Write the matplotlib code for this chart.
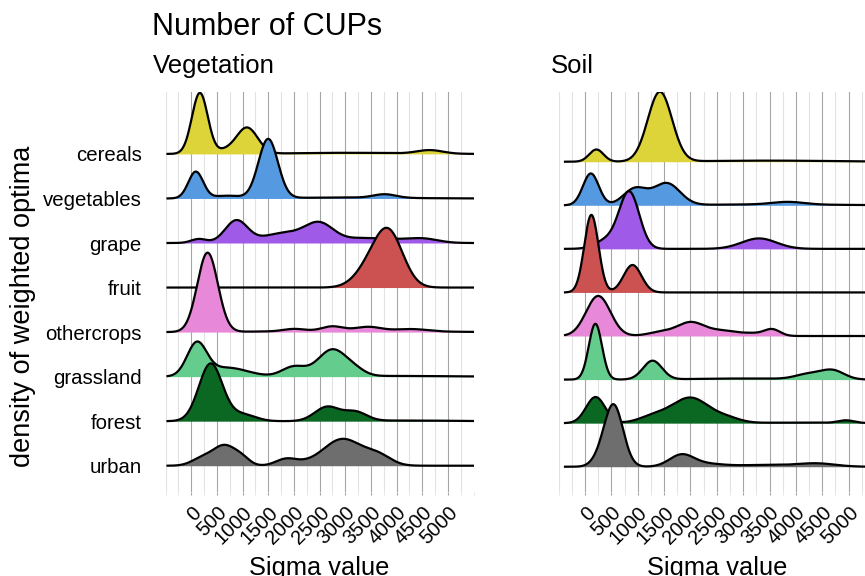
import numpy as np
import matplotlib.pyplot as plt

plt.rcParams["font.family"] = ["Liberation Sans", "DejaVu Sans"]

# ridges from top to bottom
crops = ["cereals", "vegetables", "grape", "fruit", "othercrops", "grassland", "forest", "urban"]
crop_colors = ["#DDD43A", "#5599E0", "#A05AE8", "#CC5252", "#E888D8", "#64CC8C", "#0A6823", "#6E6E6E"]
sigma_ticks = [0, 500, 1000, 1500, 2000, 2500, 3000, 3500, 4000, 4500, 5000]

# density bumps: (sigma value, ridge height, spread)
veg_cereals = [(170, 1.37, 155), (1085, 0.59, 210), (650, 0.06, 150), (4650, 0.08, 250), (3000, 0.025, 1000)]
veg_vegetables = [(90, 0.6, 145), (700, 0.06, 250), (1500, 1.33, 190), (3770, 0.08, 220), (3000, 0.02, 1100)]
veg_grape = [(150, 0.09, 150), (880, 0.5, 220), (1800, 0.22, 400), (2500, 0.42, 280),
             (3300, 0.1, 350), (3900, 0.06, 300), (4500, 0.1, 300)]
veg_fruit = [(3850, 1.2, 280), (3450, 0.35, 280)]
veg_othercrops = [(320, 1.78, 200), (2000, 0.05, 200), (2750, 0.1, 200), (3450, 0.09, 250),
                  (4300, 0.05, 300), (3000, 0.03, 1300)]
veg_grassland = [(110, 0.72, 190), (700, 0.2, 400), (2000, 0.22, 230), (2750, 0.6, 280),
                 (3200, 0.1, 200), (4000, 0.015, 1000)]
veg_forest = [(380, 1.29, 230), (1000, 0.15, 250), (2650, 0.32, 240), (3200, 0.2, 220), (4200, 0.015, 800)]
veg_urban = [(650, 0.45, 230), (200, 0.15, 200), (1000, 0.12, 150), (1850, 0.15, 200),
             (2200, 0.03, 200), (2950, 0.6, 380), (3650, 0.2, 250)]

soil_cereals = [(215, 0.28, 135), (1420, 1.6, 230), (3500, 0.025, 1200)]
soil_vegetables = [(110, 0.73, 150), (950, 0.38, 220), (1550, 0.5, 250), (3850, 0.06, 300), (3500, 0.02, 1200)]
soil_grape = [(840, 1.29, 190), (420, 0.2, 220), (3300, 0.24, 330)]
soil_fruit = [(120, 1.78, 135), (900, 0.63, 170)]
soil_othercrops = [(250, 0.92, 230), (1450, 0.09, 250), (2000, 0.3, 250), (2600, 0.12, 300),
                   (3200, 0.05, 200), (3550, 0.15, 150)]
soil_grassland = [(196, 1.28, 125), (1280, 0.43, 180), (4250, 0.12, 250), (4700, 0.2, 220), (3000, 0.025, 900)]
soil_forest = [(200, 0.6, 180), (1300, 0.15, 280), (2000, 0.58, 350), (2700, 0.1, 250),
               (4950, 0.06, 150), (4000, 0.012, 800)]
soil_urban = [(540, 1.42, 180), (250, 0.1, 150), (1830, 0.27, 230), (2300, 0.06, 300),
              (4400, 0.07, 350), (3400, 0.04, 600)]

veg_ridges = [veg_cereals, veg_vegetables, veg_grape, veg_fruit,
              veg_othercrops, veg_grassland, veg_forest, veg_urban]
soil_ridges = [soil_cereals, soil_vegetables, soil_grape, soil_fruit,
               soil_othercrops, soil_grassland, soil_forest, soil_urban]


def ridge_density(x, bumps):
    dens = np.zeros_like(x)
    for centre, height, spread in bumps:
        dens += height * np.exp(-0.5 * ((x - centre) / spread) ** 2)
    return dens


def draw_panel(ax, ridges, x_start, ylim):
    x = np.linspace(x_start, 5500, 800)
    n = len(crops)
    for i, (col, bumps) in enumerate(zip(crop_colors, ridges)):
        base = n - i
        top = base + ridge_density(x, bumps)
        ax.fill_between(x, base, top, color=col, lw=0, zorder=2 + 2 * i)
        ax.plot(x, top, color="black", lw=1.6, zorder=3 + 2 * i)
    ax.set_xlim(-500, 5500)
    ax.set_ylim(*ylim)
    ax.set_xticks(sigma_ticks)
    ax.set_xticklabels([str(t) for t in sigma_ticks], rotation=45, rotation_mode="anchor",
                       ha="right", va="top", fontsize=14.5)
    ax.set_xticks(np.arange(-500, 5501, 250), minor=True)
    ax.grid(which="major", axis="x", color="#A6A6A6", lw=0.8)
    ax.grid(which="minor", axis="x", color="#E2E2E2", lw=0.8)
    ax.set_axisbelow(True)
    for s in ax.spines.values():
        s.set_visible(False)
    ax.tick_params(axis="x", which="major", length=2, color="#A6A6A6", pad=6.0)
    ax.tick_params(axis="x", which="minor", length=2, color="#E2E2E2")


fig = plt.figure(figsize=(8.65, 5.76), dpi=100)
W, H = 865.0, 576.0

ax1 = fig.add_axes([165.5 / W, 1 - 492 / H, 308 / W, 400 / H])
draw_panel(ax1, veg_ridges, -460, (0.41, 9.39))
ax1.set_yticks(range(1, 9))
ax1.set_yticklabels(crops[::-1], fontsize=14.7)
ax1.tick_params(axis="y", length=0, pad=17.1)

ax2 = fig.add_axes([558.7 / W, 1 - 492 / H, 316.3 / W, 400 / H])
draw_panel(ax2, soil_ridges, -380, (0.42, 9.6))
ax2.set_yticks([])

fig.text(152.5 / W, 1 - 35 / H, "Number of CUPs", fontsize=22, va="baseline", ha="left")
fig.text(152.5 / W, 1 - 73 / H, "Vegetation", fontsize=18.5, va="baseline", ha="left")
fig.text(550.5 / W, 1 - 73 / H, "Soil", fontsize=18.5, va="baseline", ha="left")
fig.text(23 / W, 1 - 306.7 / H, "density of weighted optima", fontsize=19.5,
         rotation=90, ha="center", va="center")
fig.text(319.5 / W, 1 - 575 / H, "Sigma value", fontsize=18.3, ha="center", va="baseline")
fig.text(716.8 / W, 1 - 575 / H, "Sigma value", fontsize=18.3, ha="center", va="baseline")

fig.savefig("out.png", dpi=100)
